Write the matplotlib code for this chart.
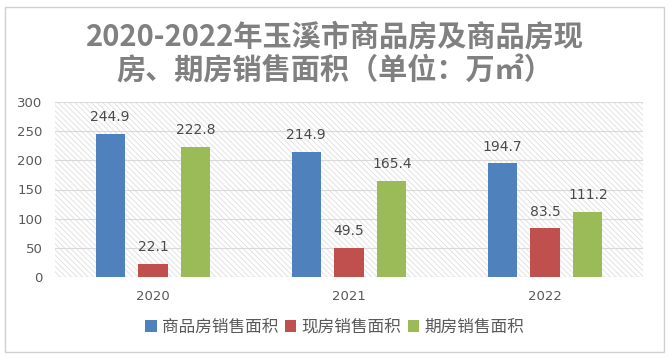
import matplotlib.pyplot as plt
import matplotlib.patches as mpatches
import numpy as np

plt.rcParams['font.family'] = ['Noto Sans CJK SC', 'DejaVu Sans']
plt.rcParams['hatch.linewidth'] = 0.6

# 数据
years = ['2020', '2021', '2022']
total = [244.9, 214.9, 194.7]
spot = [22.1, 49.5, 83.5]
future = [222.8, 165.4, 111.2]
series_names = ['商品房销售面积', '现房销售面积', '期房销售面积']
colors = ['#4F81BD', '#C0504D', '#9BBB59']

fig = plt.figure(figsize=(6.69, 3.58), dpi=100)
fig.patch.set_facecolor('white')

# 外框
fig.patches.append(mpatches.Rectangle((5 / 669, 1 - 352 / 358), 659 / 669, 345 / 358,
                                      transform=fig.transFigure, fill=False,
                                      edgecolor='#d0d0d0', linewidth=1.0))

ax = fig.add_axes([55 / 669, 1 - 277 / 358, 588 / 669, 175 / 358])

# 斜线底纹
ax.add_patch(mpatches.Rectangle((0, 0), 1, 1, transform=ax.transAxes,
                                facecolor='white', edgecolor='#dedede', linewidth=0,
                                hatch='\\\\\\\\\\\\', zorder=0))

x = np.arange(len(years))
w = 0.148
step = 0.219
for i, (vals, name, c) in enumerate(zip([total, spot, future], series_names, colors)):
    pos = x + (i - 1) * step
    bars = ax.bar(pos, vals, width=w, color=c, label=name, zorder=3)
    for b, v in zip(bars, vals):
        ax.annotate(f'{v}', (b.get_x() + b.get_width() / 2, v), xytext=(0, 7),
                    textcoords='offset points', ha='center', va='bottom',
                    fontsize=10, color='#4a4a4a', family='DejaVu Sans')

ax.set_xlim(-0.5, 2.5)
ax.set_ylim(0, 300)
ax.set_yticks(range(0, 301, 50))
ax.set_xticks(x)
ax.set_xticklabels(years)
ax.yaxis.grid(True, color='#d9d9d9', linewidth=0.8, zorder=1)
ax.set_axisbelow(True)
for s in ax.spines.values():
    s.set_visible(False)
ax.axhline(0, color='#d0d0d0', linewidth=0.8, zorder=2)
ax.tick_params(length=0, labelsize=9.5, colors='#595959')
ax.tick_params(axis='x', pad=9)
ax.tick_params(axis='y', pad=9)
for t in ax.get_xticklabels() + ax.get_yticklabels():
    t.set_family('DejaVu Sans')

fig.text(0.5, 1 - 37 / 358, '2020-2022年玉溪市商品房及商品房现', ha='center', va='center',
         fontsize=21, fontweight='bold', color='#808080')
fig.text(0.5, 1 - 70 / 358, '房、期房销售面积（单位：万㎡）', ha='center', va='center',
         fontsize=21, fontweight='bold', color='#808080')

fig.legend(loc='center', bbox_to_anchor=(0.5, 1 - 327 / 358), ncol=3, frameon=False,
           fontsize=12, handlelength=0.7, handleheight=0.7, handletextpad=0.3,
           columnspacing=0.4, labelcolor='#595959')

plt.savefig('out.png', dpi=100)
